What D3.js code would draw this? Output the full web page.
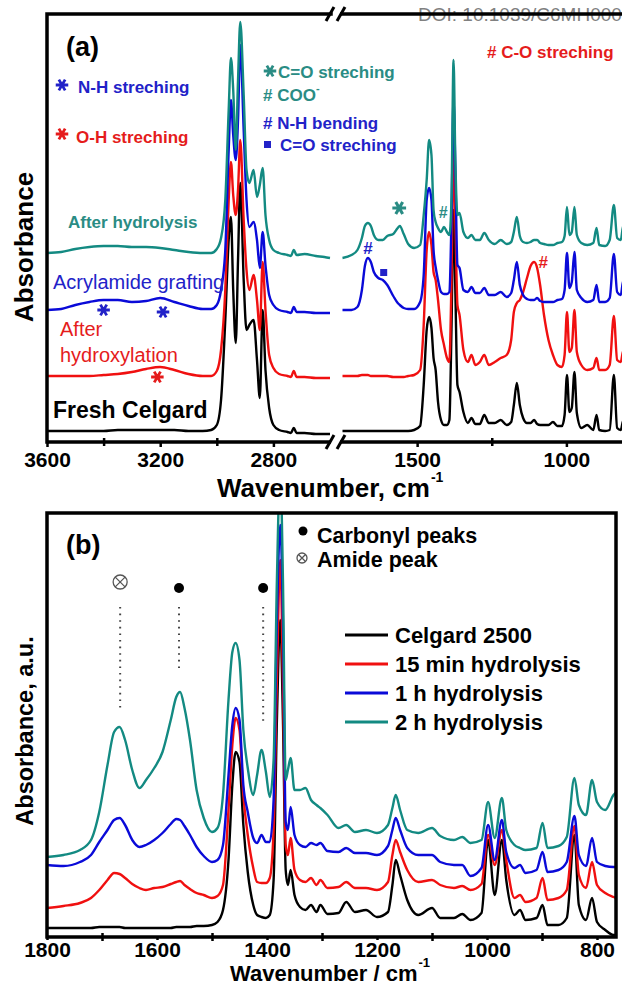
<!DOCTYPE html>
<html><head><meta charset="utf-8">
<script src="https://cdn.jsdelivr.net/npm/d3@7"></script>
<style>
body{margin:0;background:#fff}
svg{display:block}
text{font-family:"Liberation Sans",Arial,Helvetica,sans-serif}
</style>
</head><body>
<svg id="chart" width="622" height="987"></svg>
<script>
// ---------------- DATA (absorbance, arbitrary units, stacked offsets) ----------------
// Panel (a) left segment (C-H / O-H / N-H stretching region)
const aLeftWavenumbers = [3600,3550,3500,3450,3400,3350,3300,3250,3200,3150,3100,3050,3020,3000,2985,2970,2958,2950,2942,2933,2925,2917,2905,2895,2885,2870,2858,2848,2838,2828,2815,2800,2780,2750,2738,2728,2718,2690,2650,2620,2600];
const aLeftFresh = [0.09,0.09,0.09,0.09,0.09,0.10,0.10,0.10,0.10,0.10,0.09,0.09,0.10,0.15,0.40,1.20,2.00,2.23,1.50,0.97,1.80,2.57,1.60,1.10,1.15,1.20,0.80,0.42,1.30,0.70,0.32,0.15,0.10,0.08,0.07,0.12,0.07,0.07,0.06,0.06,0.06];
const aLeftHydroxylated = [0.64,0.64,0.64,0.64,0.65,0.66,0.68,0.71,0.73,0.70,0.66,0.64,0.64,0.69,0.90,1.50,2.40,2.78,2.45,2.25,2.50,3.00,2.20,1.70,1.50,1.65,1.40,1.10,1.78,1.30,0.85,0.72,0.66,0.64,0.63,0.69,0.63,0.63,0.62,0.62,0.62];
const aLeftGrafted = [1.30,1.31,1.35,1.38,1.40,1.40,1.38,1.39,1.42,1.38,1.34,1.31,1.31,1.35,1.50,1.90,2.90,3.40,3.05,2.80,3.20,3.95,3.10,2.40,2.13,2.18,2.00,1.72,2.08,1.75,1.45,1.35,1.30,1.28,1.27,1.33,1.28,1.28,1.27,1.27,1.27];
const aLeftHydrolysed = [1.87,1.88,1.91,1.93,1.94,1.94,1.93,1.93,1.92,1.90,1.88,1.87,1.87,1.91,2.02,2.40,3.30,3.82,3.50,2.90,3.60,4.18,3.45,2.70,2.57,2.70,2.43,2.55,2.72,2.25,2.00,1.90,1.87,1.85,1.84,1.90,1.85,1.86,1.84,1.83,1.82];

// Panel (a) right segment (fingerprint region)
const aRightWavenumbers = [1750,1720,1700,1685,1675,1665,1655,1645,1630,1615,1600,1580,1565,1558,1545,1530,1510,1490,1478,1468,1460,1452,1445,1438,1430,1420,1410,1400,1392,1385,1378,1372,1365,1358,1345,1330,1318,1305,1290,1275,1260,1240,1220,1200,1185,1176,1166,1156,1145,1132,1120,1108,1098,1088,1075,1060,1045,1030,1015,1006,998,990,982,973,965,950,930,910,899,890,870,855,841,830,818,809,800];
const aRightFresh = [0.09,0.09,0.09,0.09,0.09,0.09,0.09,0.09,0.09,0.09,0.09,0.09,0.09,0.09,0.09,0.09,0.10,0.14,0.55,1.10,1.23,1.12,0.82,0.70,0.38,0.20,0.15,0.15,0.20,1.10,2.30,1.50,0.55,0.48,0.28,0.17,0.22,0.16,0.16,0.25,0.17,0.17,0.20,0.15,0.18,0.35,0.57,0.35,0.22,0.17,0.17,0.20,0.16,0.15,0.15,0.15,0.18,0.14,0.14,0.25,0.65,0.28,0.32,0.68,0.27,0.12,0.15,0.10,0.25,0.10,0.09,0.10,0.65,0.12,0.10,0.20,0.10];
const aRightHydroxylated = [0.64,0.64,0.64,0.65,0.65,0.65,0.64,0.64,0.64,0.64,0.64,0.63,0.63,0.63,0.63,0.64,0.65,0.70,1.15,1.90,2.08,1.95,1.68,1.60,1.40,1.10,0.95,0.82,0.78,1.60,2.90,2.20,1.35,1.25,0.90,0.78,0.85,0.75,0.78,0.85,0.75,0.78,0.82,0.85,1.00,1.28,1.37,1.40,1.48,1.62,1.74,1.78,1.72,1.55,1.25,1.00,0.85,0.75,0.73,0.85,1.28,0.88,0.92,1.30,0.88,0.75,0.70,0.72,0.82,0.70,0.70,0.75,1.24,0.80,0.78,0.90,0.78];
const aRightGrafted = [1.30,1.30,1.33,1.50,1.74,1.82,1.78,1.68,1.62,1.60,1.55,1.44,1.37,1.35,1.32,1.31,1.31,1.38,1.65,2.40,2.52,2.40,1.90,1.73,1.60,1.48,1.46,1.46,1.48,2.20,3.40,2.70,1.75,1.72,1.50,1.48,1.53,1.47,1.47,1.52,1.45,1.45,1.48,1.43,1.47,1.60,1.78,1.55,1.45,1.41,1.40,1.40,1.42,1.39,1.38,1.38,1.38,1.40,1.41,1.50,1.87,1.52,1.58,1.88,1.50,1.42,1.38,1.40,1.55,1.38,1.38,1.42,1.86,1.48,1.45,1.60,1.44];
const aRightHydrolysed = [1.82,1.85,1.90,2.02,2.14,2.17,2.14,2.05,2.00,2.00,2.04,2.06,2.12,2.14,2.06,1.96,1.92,1.95,2.25,2.60,3.00,2.85,2.30,2.18,2.12,2.08,2.13,2.08,2.05,2.40,3.80,2.80,2.25,2.27,2.08,2.02,2.05,2.00,2.00,2.07,2.00,1.96,2.00,1.96,1.98,2.08,2.23,2.04,1.98,1.97,1.98,2.00,2.00,1.97,1.96,1.95,1.95,1.97,1.98,2.04,2.33,2.05,2.08,2.33,2.05,1.97,1.95,1.97,2.12,1.95,1.94,2.00,2.35,2.02,2.00,2.15,2.02];

const aLeftTicks = [3600,3200,2800];
const aLeftMinorTicks = [3400,3000];
const aRightTicks = [1500,1000];
const aRightMinorTicks = [1250];

// Panel (b) hydrolysis time series
const bWavenumbers = [1800,1770,1740,1720,1705,1690,1678,1668,1658,1645,1632,1620,1605,1590,1575,1565,1558,1550,1540,1528,1515,1500,1490,1480,1470,1463,1457,1450,1443,1435,1425,1418,1410,1402,1395,1388,1382,1376,1371,1366,1362,1357,1350,1340,1330,1320,1310,1303,1290,1270,1256,1240,1220,1200,1180,1172,1166,1158,1145,1125,1100,1085,1060,1045,1030,1010,998,986,973,965,950,940,930,910,899,890,870,855,841,833,820,809,800,785,770,765];
const bCelgard = [0.09,0.09,0.09,0.09,0.10,0.10,0.10,0.10,0.09,0.09,0.09,0.09,0.09,0.09,0.09,0.10,0.10,0.10,0.10,0.11,0.11,0.12,0.15,0.27,0.77,1.52,1.85,1.75,1.12,0.65,0.32,0.22,0.20,0.19,0.22,0.57,2.17,3.17,2.17,0.67,0.52,0.67,0.42,0.30,0.27,0.32,0.25,0.32,0.23,0.24,0.35,0.25,0.27,0.20,0.25,0.52,0.77,0.62,0.37,0.22,0.29,0.19,0.19,0.23,0.17,0.24,0.97,0.42,0.97,0.57,0.22,0.27,0.17,0.19,0.32,0.12,0.12,0.19,1.02,0.32,0.17,0.39,0.15,0.07,0.02,0.02];
const b15min = [0.29,0.31,0.34,0.39,0.47,0.57,0.64,0.63,0.59,0.53,0.49,0.47,0.49,0.50,0.53,0.55,0.56,0.52,0.48,0.44,0.42,0.39,0.41,0.52,1.27,1.92,2.19,2.07,1.42,1.02,0.69,0.55,0.54,0.54,0.59,1.07,2.57,3.77,2.57,0.92,0.82,0.99,0.67,0.57,0.55,0.59,0.52,0.57,0.49,0.50,0.55,0.49,0.49,0.47,0.55,0.82,0.97,0.85,0.67,0.55,0.57,0.52,0.49,0.51,0.47,0.53,1.02,0.72,1.07,0.77,0.39,0.42,0.35,0.39,0.59,0.37,0.39,0.47,1.11,0.62,0.49,0.75,0.52,0.44,0.40,0.39];
const b1h = [0.72,0.71,0.75,0.82,0.95,1.07,1.17,1.19,1.12,0.97,0.90,0.92,0.97,1.04,1.13,1.18,1.17,1.11,1.02,0.90,0.81,0.75,0.77,0.92,1.62,2.12,2.29,2.17,1.52,1.25,0.99,0.94,1.02,0.95,0.95,1.37,3.17,4.12,3.17,1.15,1.07,1.30,1.02,0.92,0.90,0.94,0.92,0.94,0.86,0.85,0.89,0.84,0.84,0.82,0.91,1.07,1.19,1.07,0.89,0.82,0.82,0.75,0.72,0.72,0.61,0.69,1.12,0.77,1.17,0.85,0.69,0.72,0.64,0.67,0.85,0.65,0.67,0.75,1.21,0.82,0.71,0.99,0.75,0.71,0.70,0.70];
const b2h = [0.80,0.82,0.87,0.97,1.25,1.72,2.05,2.10,1.97,1.67,1.49,1.57,1.69,1.85,2.17,2.40,2.45,2.29,1.97,1.47,1.19,1.05,1.09,1.42,2.37,2.85,2.94,2.77,2.07,1.69,1.42,1.62,1.87,1.65,1.40,1.77,3.57,4.67,3.57,1.57,1.67,1.79,1.47,1.47,1.49,1.37,1.32,1.29,1.22,1.09,1.12,1.05,1.07,1.04,1.12,1.29,1.42,1.27,1.07,1.04,1.09,1.01,0.97,1.00,0.94,0.97,1.35,0.99,1.39,1.07,0.92,0.89,0.87,0.89,1.14,0.89,0.91,1.00,1.59,1.32,1.22,1.57,1.35,1.27,1.42,1.45];
const bLegendLabels = ["Celgard 2500","15 min hydrolysis","1 h hydrolysis","2 h hydrolysis"];
const bTicks = [1800,1600,1400,1200,1000,800];
const bMinorTicks = [1700,1500,1300,1100,900];
const bPeakMarks = [{wn:1667, kind:"amide"},{wn:1560, kind:"carbonyl"},{wn:1407, kind:"carbonyl"}];

// ---------------- STYLE ----------------
const COL = {black:"#000000", red:"#f01010", blue:"#0a0ad8", teal:"#138a82"};
const TXT = {red:"#e51c1c", blue:"#2222c8", teal:"#2a8c84"};

const svg = d3.select("#chart");
const defs = svg.append("defs");
defs.append("clipPath").attr("id","clipA").append("rect").attr("x",47).attr("y",14).attr("width",580).attr("height",428);
defs.append("clipPath").attr("id","clipB").append("rect").attr("x",47).attr("y",513).attr("width",569).attr("height",424);

function drawSeries(g, wn, vals, x, y, color){
  const pts = wn.map((w,i)=>({w:w, v:vals[i]}));
  g.append("path").datum(pts)
    .attr("d", d3.line().x(d=>x(d.w)).y(d=>y(d.v)).curve(d3.curveMonotoneX))
    .attr("fill","none").attr("stroke",color).attr("stroke-width",2.4)
    .attr("stroke-linejoin","round");
}
function txt(x,y,s,opt){
  opt = opt||{};
  const t = svg.append("text").attr("x",x).attr("y",y).text(s)
    .attr("font-size",opt.size||17).attr("font-weight",opt.weight||"bold")
    .attr("fill",opt.fill||"#000").attr("text-anchor",opt.anchor||"start");
  return t;
}
// asterisk marker symbol (6 arms)
const starPath = d3.symbol(d3.symbolAsterisk, 110)();
function star(cx,cy,color,scale){
  svg.append("path").attr("d",starPath)
    .attr("transform",`translate(${cx},${cy}) rotate(90) scale(${scale||1})`)
    .attr("fill","none").attr("stroke",color).attr("stroke-width",2.8).attr("stroke-linecap","butt");
}

// ================= PANEL (a) =================
const xAL = d3.scaleLinear().domain([3600,2600]).range([47,330]);
const xAR = d3.scaleLinear().domain([1750,800]).range([342.5,626.1]);
const yA = d3.scaleLinear().domain([0,4.26]).range([440,14]);

// DOI watermark (under the frame line)
txt(418,21,"DOI: 10.1039/C6MH000",{size:19,weight:"normal",fill:"#808080"});

const gA = svg.append("g").attr("clip-path","url(#clipA)");
[[aLeftFresh,aRightFresh,COL.black],[aLeftHydroxylated,aRightHydroxylated,COL.red],
 [aLeftGrafted,aRightGrafted,COL.blue],[aLeftHydrolysed,aRightHydrolysed,COL.teal]].forEach(s=>{
  drawSeries(gA,aLeftWavenumbers,s[0],xAL,yA,s[2]);
  drawSeries(gA,aRightWavenumbers,s[1],xAR,yA,s[2]);
});

// frame of panel (a) with axis break
const fr = svg.append("g").attr("stroke","#000").attr("stroke-width",3.5).attr("fill","none");
fr.append("path").attr("d","M47,442V14H331").attr("stroke-linecap","square");
fr.append("path").attr("d","M340,14H622");
fr.append("path").attr("d","M47,442H331");
fr.append("path").attr("d","M340,442H622");
[14,442].forEach(yy=>{
  fr.append("path").attr("d",`M326,${yy+7}L334,${yy-7}`).attr("stroke-width",3);
  fr.append("path").attr("d",`M337,${yy+7}L345,${yy-7}`).attr("stroke-width",3);
});

function styleAxis(g,size){
  g.select(".domain").remove();
  g.selectAll(".tick line").attr("stroke","#000").attr("stroke-width",2.5);
  g.selectAll(".tick text").attr("font-size",size).attr("font-weight","bold")
    .attr("fill","#000").attr("font-family",'"Liberation Sans",Arial,sans-serif');
}
const axL = svg.append("g").attr("transform","translate(0,442)")
  .call(d3.axisBottom(xAL).tickValues(aLeftTicks).tickSize(5).tickPadding(5).tickFormat(d3.format("d")));
styleAxis(axL,21);
const axR = svg.append("g").attr("transform","translate(0,442)")
  .call(d3.axisBottom(xAR).tickValues(aRightTicks).tickSize(5).tickPadding(5).tickFormat(d3.format("d")));
styleAxis(axR,21);
const mnL = svg.append("g").attr("transform","translate(0,438)")
  .call(d3.axisBottom(xAL).tickValues(aLeftMinorTicks).tickSize(8).tickFormat(""));
styleAxis(mnL,1);
const mnR = svg.append("g").attr("transform","translate(0,438)")
  .call(d3.axisBottom(xAR).tickValues(aRightMinorTicks).tickSize(8).tickFormat(""));
styleAxis(mnR,1);

// axis titles (a)
const tA = txt(217,497,"Wavenumber, cm",{size:26});
tA.append("tspan").attr("font-size",14).attr("dy",-15).attr("dx",1).text("-1");
txt(0,0,"Absorbance",{size:26,anchor:"middle"}).attr("transform","translate(33,247) rotate(-90)");
txt(66,56,"(a)",{size:27});

// annotations (a)
star(62,85,TXT.blue);
txt(78,93,"N-H streching",{fill:TXT.blue});
star(62,134,TXT.red);
txt(76,143,"O-H streching",{fill:TXT.red});
star(270,71,TXT.teal);
txt(278,78,"C=O streching",{fill:TXT.teal});
const coo = txt(263,101,"# COO",{fill:TXT.teal});
coo.append("tspan").attr("font-size",11).attr("dy",-9).text("-");
txt(263,129,"# N-H bending",{fill:TXT.blue});
svg.append("rect").attr("x",264).attr("y",141).attr("width",7).attr("height",7).attr("fill",TXT.blue);
txt(280,151,"C=O streching",{fill:TXT.blue});
txt(487,58,"# C-O streching",{fill:TXT.red});

txt(68,228,"After hydrolysis",{fill:TXT.teal});
txt(53,289,"Acrylamide grafting",{size:20,weight:"normal",fill:TXT.blue});
txt(60,336,"After",{size:20,weight:"normal",fill:TXT.red});
txt(60,362,"hydroxylation",{size:20,weight:"normal",fill:TXT.red});
txt(53,418,"Fresh Celgard",{size:23});

// peak markers (a)
star(xAL(3400),310,TXT.blue);
star(xAL(3190),312,TXT.blue);
star(xAL(3210),377,TXT.red);
star(xAR(1560),208,TXT.teal,1.1);
txt(xAR(1413),218,"#",{size:16,anchor:"middle",fill:TXT.teal});
txt(xAR(1665),254,"#",{size:17,anchor:"middle",fill:TXT.blue});
svg.append("rect").attr("x",xAR(1612)-3.5).attr("y",269).attr("width",7).attr("height",7).attr("fill",TXT.blue);
txt(xAR(1078),268,"#",{size:17,anchor:"middle",fill:TXT.red});

// ================= PANEL (b) =================
const xB = d3.scaleLinear().domain([1800,765]).range([47,616.25]);
const yB = d3.scaleLinear().domain([0,4.24]).range([937,513]);

const gB = svg.append("g").attr("clip-path","url(#clipB)");
const bSeries = [[bCelgard,COL.black],[b15min,COL.red],[b1h,COL.blue],[b2h,COL.teal]];
bSeries.forEach(s=>drawSeries(gB,bWavenumbers,s[0],xB,yB,s[1]));

svg.append("rect").attr("x",47).attr("y",513).attr("width",569).attr("height",424)
  .attr("fill","none").attr("stroke","#000").attr("stroke-width",3.5);

const axB = svg.append("g").attr("transform","translate(0,937)")
  .call(d3.axisBottom(xB).tickValues(bTicks).tickSize(3).tickPadding(2).tickFormat(d3.format("d")));
styleAxis(axB,21);
const mnB = svg.append("g").attr("transform","translate(0,933)")
  .call(d3.axisBottom(xB).tickValues(bMinorTicks).tickSize(8).tickFormat(""));
styleAxis(mnB,1);

const tB = txt(230,981,"Wavenumber / cm",{size:22});
tB.append("tspan").attr("font-size",13).attr("dy",-14).attr("dx",1).text("-1");
txt(0,0,"Absorbance, a.u.",{size:23.5,anchor:"middle"}).attr("transform","translate(33,731) rotate(-90)");
txt(66,554,"(b)",{size:27});

// peak marks with dotted guides
function otimes(cx,cy,r){
  const g = svg.append("g").attr("stroke","#555").attr("stroke-width",1.3).attr("fill","none");
  g.append("circle").attr("cx",cx).attr("cy",cy).attr("r",r);
  const d = r*0.7;
  g.append("path").attr("d",`M${cx-d},${cy-d}L${cx+d},${cy+d}M${cx-d},${cy+d}L${cx+d},${cy-d}`);
}
const guideEnds = [708,672,724];
bPeakMarks.forEach((m,i)=>{
  const x = xB(m.wn);
  if(m.kind==="amide") otimes(x,582,7);
  else svg.append("circle").attr("cx",x).attr("cy",588).attr("r",5).attr("fill","#000");
  svg.append("line").attr("x1",x).attr("x2",x).attr("y1",607).attr("y2",guideEnds[i])
    .attr("stroke","#444").attr("stroke-width",2).attr("stroke-dasharray","1.6,5");
});

svg.append("circle").attr("cx",303).attr("cy",531).attr("r",4.5).attr("fill","#000");
txt(317,543,"Carbonyl peaks",{size:21.5});
otimes(302,558,5);
txt(317,567,"Amide peak",{size:21.5});

// legend (b)
const legY = [635,664,693,722];
bSeries.forEach((s,i)=>{
  svg.append("line").attr("x1",345).attr("x2",388).attr("y1",legY[i]).attr("y2",legY[i])
    .attr("stroke",s[1]).attr("stroke-width",3);
  txt(395,legY[i]+8,bLegendLabels[i],{size:22});
});
</script>
</body></html>
